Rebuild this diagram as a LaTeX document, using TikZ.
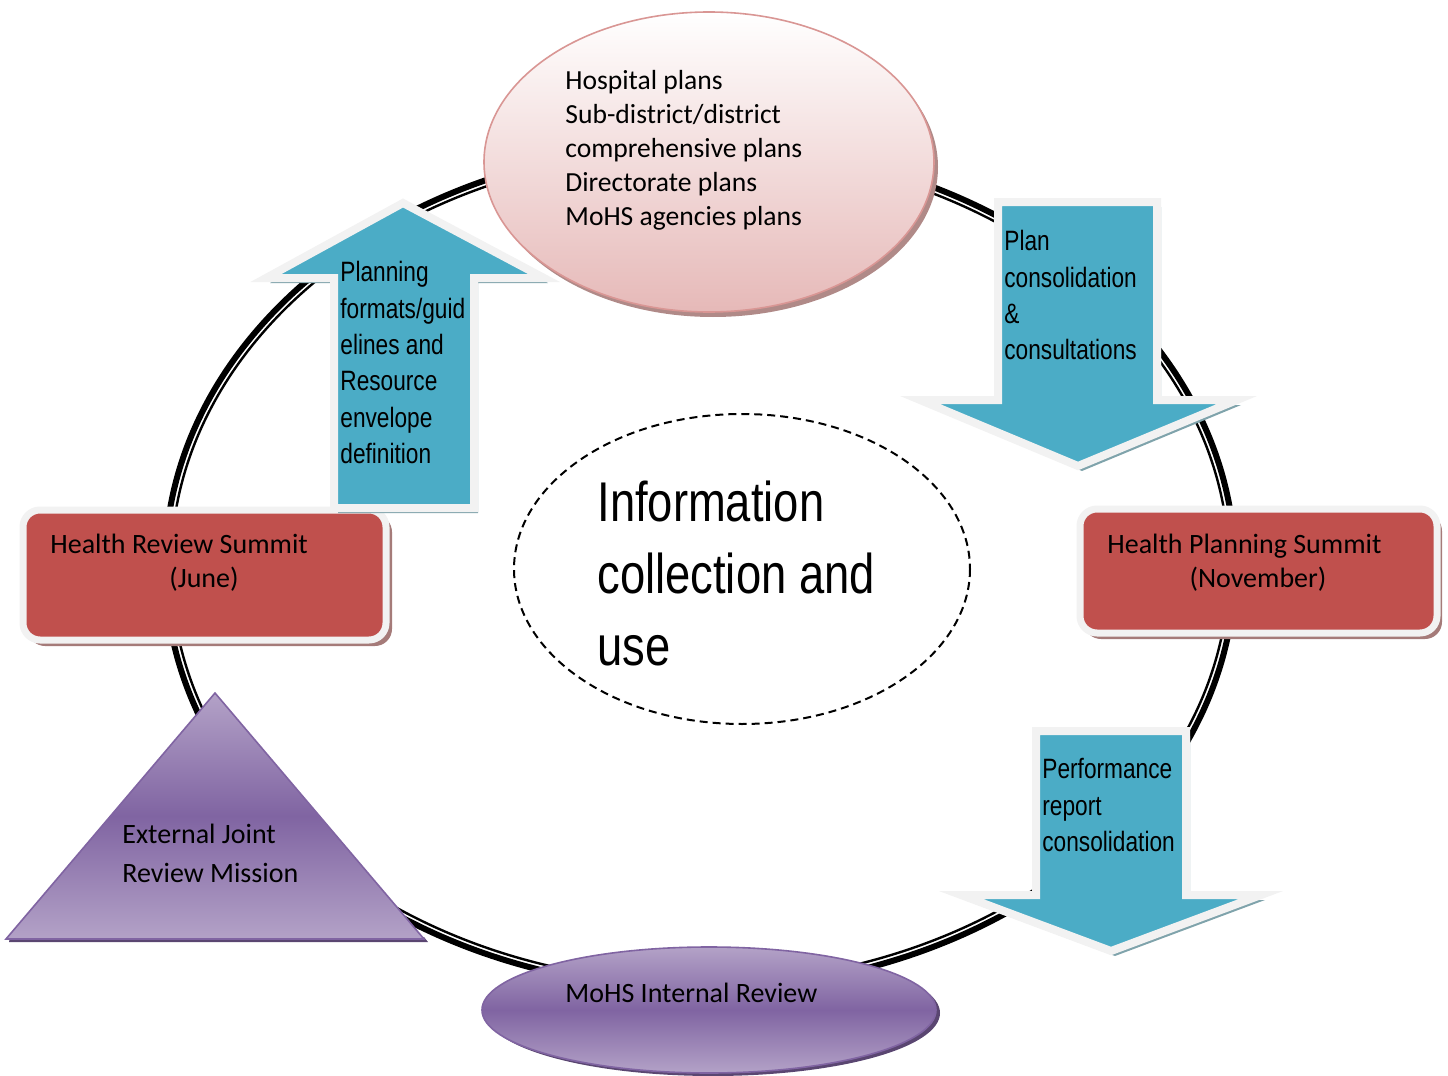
\documentclass[tikz,border=0pt]{standalone}
\usepackage{fontspec}
\setmainfont{Carlito}
\newfontfamily\narrowsans[FakeStretch=0.81]{Liberation Sans}
\usetikzlibrary{shapes.geometric,positioning}

\definecolor{arrowblue}{HTML}{4BACC6}
\definecolor{rimgray}{HTML}{F2F2F2}
\definecolor{summitred}{HTML}{C0504D}
\definecolor{pinkfill}{HTML}{E6B9B8}
\definecolor{pinkline}{HTML}{D99694}
\definecolor{lilac}{HTML}{B3A2C7}
\definecolor{violet}{HTML}{8064A2}
\definecolor{tealshade}{HTML}{7FA3AB}
\definecolor{redshade}{HTML}{A57B79}
\definecolor{pinkshade}{HTML}{B08A88}

\tikzset{
  bluearrow/.style={fill=arrowblue, draw=rimgray, line width=4pt, miter limit=20},
  arrowshade/.style={fill=tealshade},
  summitbox/.style={fill=summitred, draw=rimgray, line width=3.5pt, rounded corners=8.5pt},
  boxshade/.style={fill=redshade, rounded corners=8.5pt},
  arrowtext/.style={font=\narrowsans\fontsize{14}{18.2}\selectfont, align=left, inner sep=0pt},
  plaintext/.style={font=\fontsize{14}{17}\selectfont, inner sep=0pt},
  purpleshade/.style={top color=lilac, bottom color=lilac, middle color=violet, draw=violet, line width=0.8pt}
}

\begin{document}
\begin{tikzpicture}[x=0.5pt, y=-0.5pt]
\useasboundingbox (0,0) rectangle (1448,1076);

% the cycle
\draw[line width=3pt] (700,567) ellipse [x radius=535, y radius=422];
\draw[line width=1.2pt] (700,567) ellipse [x radius=529, y radius=416];

% centre
\draw[dashed, line width=1pt, dash pattern=on 4pt off 2.5pt] (742,569) ellipse [x radius=228, y radius=155];
\node[arrowtext, font=\narrowsans\fontsize{28}{36}\selectfont, anchor=north west] (info) at (597,481) {Information\\collection and\\use};

% summits
\fill[boxshade] (28,515) rectangle (392,646);
\draw[summitbox] (23,510) rectangle (386,640);
\node[plaintext, anchor=base west] (reviewname) at (50,553) {Health Review Summit};
\node[plaintext, anchor=base] (reviewmonth) at (204,587) {(June)};

\fill[boxshade] (1084,514) rectangle (1442,639);
\draw[summitbox] (1080,509) rectangle (1437,633);
\node[plaintext, anchor=base west] (planningname) at (1107,553) {Health Planning Summit};
\node[plaintext, anchor=base] (planningmonth) at (1258,587) {(November)};

% arrows
\fill[arrowshade, shift={(4,5)}] (334,508) -- (334,278) -- (266,278) -- (403,203) -- (544,278) -- (474,278) -- (474,508) -- cycle;
\draw[bluearrow] (334,508) -- (334,278) -- (266,278) -- (403,203) -- (544,278) -- (474,278) -- (474,508) -- cycle;
\node[arrowtext, anchor=north west] (guidetext) at (340,261) {Planning\\formats/guid\\elines and\\Resource\\envelope\\definition};

\fill[arrowshade, shift={(4,5)}] (998,202) -- (1157,202) -- (1157,400) -- (1237,400) -- (1078,466) -- (920,400) -- (998,400) -- cycle;
\draw[bluearrow] (998,202) -- (1157,202) -- (1157,400) -- (1237,400) -- (1078,466) -- (920,400) -- (998,400) -- cycle;
\node[arrowtext, anchor=north west] (consoltext) at (1004,230) {Plan\\consolidation\\\&\\consultations};

\fill[arrowshade, shift={(4,5)}] (1036,731) -- (1186,731) -- (1186,895) -- (1261,895) -- (1111,951) -- (961,895) -- (1036,895) -- cycle;
\draw[bluearrow] (1036,731) -- (1186,731) -- (1186,895) -- (1261,895) -- (1111,951) -- (961,895) -- (1036,895) -- cycle;
\node[arrowtext, anchor=north west] (perftext) at (1042,758) {Performance\\report\\consolidation};

% plans
\fill[pinkshade] (713,167) ellipse [x radius=225, y radius=150];
\draw[top color=white, bottom color=pinkfill, draw=pinkline, line width=0.8pt] (709,162) ellipse [x radius=225, y radius=150];
\node[plaintext, font=\fontsize{13.8}{17}\selectfont, align=left, anchor=north west] (planlist) at (565,70) {Hospital plans\\Sub-district/district\\comprehensive plans\\Directorate plans\\MoHS agencies plans};

% reviews
\fill[violet!70!black] (9,942) -- (428,942) -- (424,937) -- (10,937) -- cycle;
\draw[purpleshade] (215,693) -- (424,939) -- (6,939) -- cycle;
\node[plaintext, font=\fontsize{14}{19.5}\selectfont, align=left, anchor=north west] (jrm) at (122,824) {External Joint\\Review Mission};

\fill[violet!70!black] (713,1013) ellipse [x radius=227, y radius=63];
\draw[purpleshade] (709,1010) ellipse [x radius=227, y radius=63];
\node[plaintext, anchor=base west] (internal) at (565,1002) {MoHS Internal Review};
\end{tikzpicture}
\end{document}
